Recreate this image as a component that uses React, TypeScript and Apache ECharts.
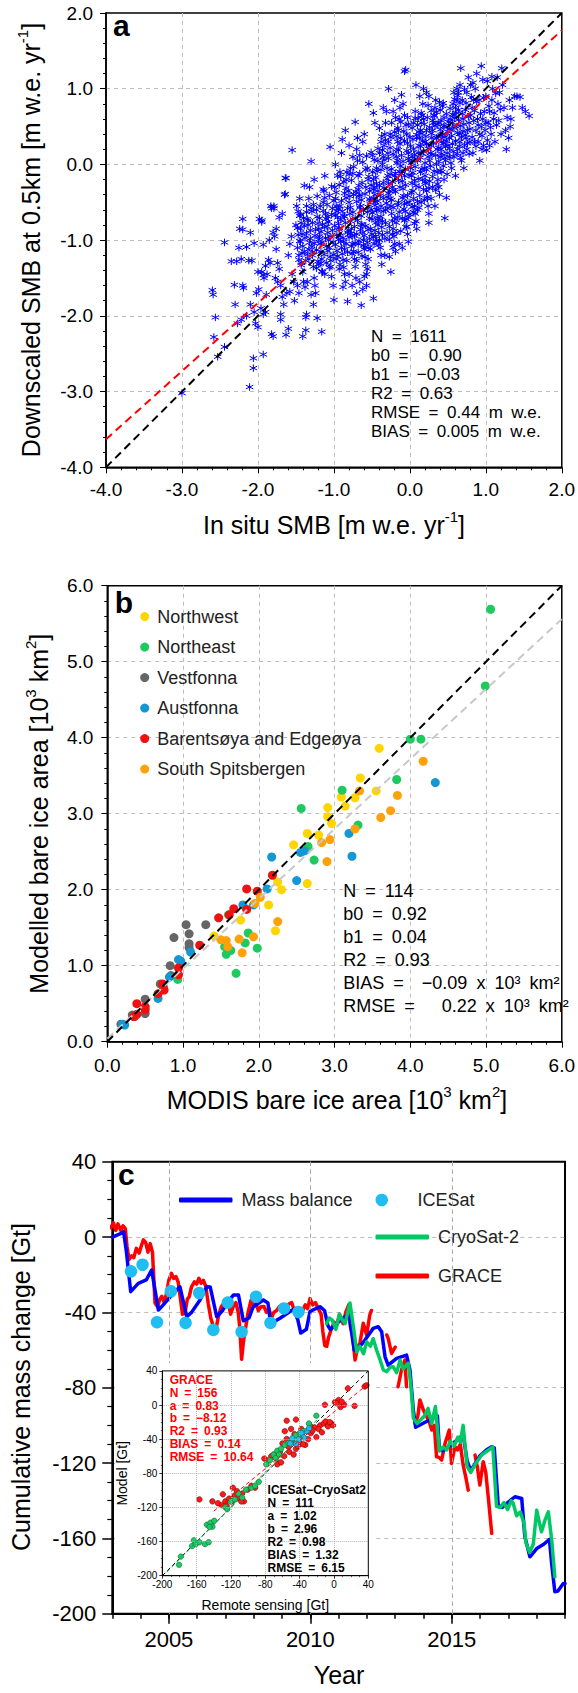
import React, { useEffect, useRef } from 'react';
import * as echarts from 'echarts';

const FONT = '"Liberation Sans", Arial, Helvetica, sans-serif';

// ---------- Panel a: in situ vs downscaled SMB ----------
const smbFit = { b0: 0.9, b1: -0.03 };
const smbRange = [-4, 2];
const smbFringe: number[][] = [
  [-0.055,1.25],[-0.07,1.23],[0.67,1.27],[0.94,1.3],[1.21,1.27],[-1.55,0.19],[-2.44,-1.03],[-2.6,-1.66],[-2.59,-1.72],[-2.56,-2.02],
  [-2.58,-2.28],[-2.53,-2.54],[-2.44,-2.41],[-2.35,-1.28],[-2.31,-1.59],[-2.3,-1.85],[-2.2,-1.6],[-2.19,-1.63],[-2.2,-0.72],[-2.24,-0.85],
  [-2.06,-2.56],[-2.06,-2.69],[-2.11,-2.94],[-1.93,-2.51],[-3.0,-3.02],[-1.8,-2.27],[-1.63,-2.25],[-1.41,-2.27],[-1.37,-2.19],[-1.16,-2.21],
  [-1.22,-2.03],[-1.0,-1.79],[-0.82,-1.81],[-0.64,-1.86],[-0.48,-1.77],[-0.25,-1.42],[0.46,-0.71],[0.25,-0.77],[0.48,-0.44],[1.3,0.35],
  [1.57,0.64],[1.45,0.89],[1.31,0.85],[1.01,0.19],[1.14,0.52],[-0.54,0.8],[-0.72,0.56],[-0.89,0.33],[-1.05,0.23],[-1.3,0.04],
  [-1.63,-0.18],[-1.64,-0.39],[-1.79,-0.55],[-1.79,-0.58],[-1.95,-0.74],[-2.05,-1.04],[-2.15,-1.09],[-2.0,-1.42],[-1.93,-1.46],[-2.22,-1.25],
  [-2.25,-1.1],[-2.28,-1.28],[-2.2,-0.86],[-2.22,-2.05],[-2.27,-2.1],[-2.12,-1.27],[-2.08,-1.27],[-2.1,-0.9],[-2.02,-1.7],[-2.1,-1.85],[-2.15,-2.0],
  [-1.98,-0.72],[-1.95,-0.76],[-1.93,-1.06],[-1.9,-1.34],[-1.88,-1.45],[-1.95,-1.42],[-1.92,-1.5],[-1.86,-1.26],[-1.83,-0.55],[-1.82,-0.58],
  [-1.8,-0.9],[-1.78,-0.95],[-1.76,-1.12],[-1.74,-1.3],[-1.72,-1.38],[-1.7,-1.6],[-1.68,-1.75],[-1.66,-1.85],[-1.62,-1.7],[-1.6,-1.2],
  [-1.58,-1.05],[-1.56,-0.95],[-1.55,-1.45],[-1.53,-1.55],[-1.52,-1.8],[-1.5,-0.8],[-1.65,-0.4],[-1.64,-0.18],[-1.68,-0.65],[-1.72,-0.7],
  [-1.76,-0.85],[-1.85,-1.0],[-1.9,-1.95],[-1.93,-1.98],[-1.96,-1.9],[-1.89,-1.72],[-1.99,-1.65],[-1.82,-2.24],[-1.7,-2.05],[-1.7,-1.98],
  [-1.6,-2.17],[-1.58,-1.68],[-1.77,-1.5],[-1.74,-1.55],[-1.84,-1.3],[-2.05,-1.95],[-2.03,-2.1],[-2.0,-2.15],
  [-1.49,-0.55],[-1.47,-0.62],[-1.45,-0.68],[-1.44,-0.85],[-1.42,-0.92],[-1.48,-1.1],[-1.46,-1.2],[-1.43,-1.3],[-1.41,-1.42],[-1.4,-1.55],
  [-1.38,-1.62],[-1.36,-1.98],[-1.37,-2.02],[-1.35,-0.72],[-1.33,-0.45],[-1.32,-0.3],[-1.31,-0.98],[-1.29,-1.08],[-1.28,-1.2],[-1.27,-1.35],
  [-1.26,-1.5],[-1.25,-1.6],[-1.24,-1.7],[-1.23,-0.6],[-1.21,-0.78],[-1.2,-0.85],[-1.19,-0.95],[-1.18,-1.05],[-1.17,-1.15],[-1.16,-1.25],
  [-1.15,-1.42],[-1.14,-0.5],[-1.13,-0.35],[-1.12,-0.15],[-1.11,-0.65],[-1.1,-0.72],[-1.09,-0.82],[-1.08,-0.9],[-1.07,-1.0],[-1.06,-1.1],
  [-1.05,-1.22],[-1.04,-1.35],[-1.03,-1.48],[-1.02,-0.58],[-1.01,-1.6],[-1.45,-0.45],[-1.39,-0.28],[-1.36,-0.55],[-1.34,-0.8],[-1.22,-0.42],
  [-1.26,-0.2],[-1.18,-0.55],[-1.12,-1.45],[-1.27,-1.85],[-1.3,-1.72],[-1.44,-1.02],[-1.39,-1.15],[-1.33,-1.25],[-1.2,-1.32],[-1.1,-1.3],
  [-1.48,-1.6],[-1.46,-1.7],[-1.35,-1.55]
];
const smbCoreWest: number[][] = [
  [-0.99,-0.3],[-0.98,-0.45],[-0.97,-0.55],[-0.96,-0.62],[-0.95,-0.7],[-0.94,-0.78],[-0.93,-0.86],[-0.92,-0.94],[-0.91,-1.02],[-0.9,-1.1],
  [-0.89,-1.18],[-0.88,-1.26],[-0.87,-1.36],[-0.86,-1.45],[-0.85,-1.55],[-0.84,-0.2],[-0.83,-0.1],[-0.85,0.45],[-0.81,-0.35],[-0.8,-0.5],
  [-0.79,-0.65],[-0.78,-0.75],[-0.77,-0.85],[-0.76,-0.95],[-0.75,-1.05],[-0.74,-1.15],[-0.73,-1.25],[-0.72,-1.35],[-0.71,-1.5],[-0.7,0.2],
  [-0.69,0.05],[-0.68,-0.15],[-0.67,-0.28],[-0.66,-0.4],[-0.65,-0.55],[-0.64,-0.68],[-0.63,-0.8],[-0.62,-0.9],[-0.61,-1.0],[-0.6,-1.12],
  [-0.59,-1.22],[-0.58,-1.32],[-0.57,-1.45],[-0.62,-1.65],[-0.56,-0.05],[-0.55,-0.2],[-0.53,-0.35],[-0.52,-0.48],[-0.51,-0.6],[-0.5,-0.72],
  [-0.52,-0.85],[-0.53,-0.98],[-0.54,-1.1],[-0.55,-1.25],[-0.56,-1.38],[-0.57,-1.6],[-0.6,0.4],[-0.62,0.3],[-0.75,0.1],[-0.78,-0.05],
  [-0.92,-0.1],[-0.95,-0.15],[-0.97,-1.25],[-0.93,-1.38],[-0.88,-1.62],[-0.8,-1.45],[-0.76,-1.6],[-0.7,-1.7],[-0.66,-1.55],[-0.6,-1.48],
  [-0.92,-0.55],[-0.87,-0.68],[-0.82,-0.9],[-0.7,-0.92],[-0.68,-1.05],[-0.84,-1.05],[-0.74,-0.4],[-0.86,-0.38],[-0.58,-0.3],[-0.66,0.12],
  [-0.98,0.0],[-0.9,0.15],[-0.8,0.25],[-0.69,0.35],
  [-1.47,-0.93],[-1.43,-0.77],[-1.41,-1.08],[-1.46,-1.26],[-1.44,-0.66],[-1.42,-1.17],[-1.48,-0.84],[-1.45,-1.01],[-1.4,-0.71],[-1.43,-1.33],
  [-1.38,-0.97],[-1.36,-0.63],[-1.33,-1.12],[-1.31,-0.87],[-1.37,-1.27],[-1.34,-0.74],[-1.32,-1.03],[-1.39,-0.81],[-1.35,-1.19],[-1.3,-0.58],[-1.36,-0.91],
  [-1.28,-0.77],[-1.27,-0.53],[-1.25,-0.94],[-1.23,-1.13],[-1.22,-0.69],[-1.21,-1.28],[-1.26,-1.04],[-1.24,-0.86],[-1.29,-0.62],[-1.2,-0.99],[-1.23,-1.37],[-1.28,-1.16],
  [-1.19,-0.71],[-1.17,-0.89],[-1.16,-1.03],[-1.14,-0.61],[-1.13,-1.19],[-1.12,-0.44],[-1.11,-0.97],[-1.15,-0.79],[-1.18,-1.31],[-1.1,-1.08],[-1.14,-0.33],[-1.16,-1.41],[-1.12,-0.83],
  [-1.09,-0.53],[-1.08,-1.14],[-1.07,-0.76],[-1.06,-0.41],[-1.05,-0.95],[-1.04,-1.27],[-1.03,-0.66],[-1.02,-0.87],[-1.01,-1.03],[-1.0,-0.48],[-1.06,-1.36],[-1.03,-0.29],[-1.08,-0.69],[-1.01,-1.19],
  [-0.99,-0.81],[-0.98,-1.06],[-0.97,-0.37],[-0.96,-0.93],[-0.95,-1.21],[-0.94,-0.59],[-0.93,-0.27],[-0.92,-1.32],[-0.91,-0.73],[-0.9,-0.48],[-0.96,-1.14],[-0.94,-0.99],[-0.91,-0.16],[-0.98,-0.67],[-0.93,-0.84],
  [-0.89,-0.62],[-0.88,-0.97],[-0.87,-0.23],[-0.86,-1.12],[-0.85,-0.77],[-0.84,-0.44],[-0.83,-1.27],[-0.82,-0.58],[-0.81,-0.88],[-0.8,-0.13],[-0.87,-1.02],[-0.84,-0.31],[-0.82,-1.16],[-0.86,-0.69],[-0.8,-0.96],
  [-0.79,-0.42],[-0.78,-0.91],[-0.77,-0.21],[-0.76,-1.18],[-0.75,-0.63],[-0.74,-0.03],[-0.73,-0.82],[-0.72,-1.04],[-0.71,-0.36],[-0.7,-1.27],[-0.78,-0.57],[-0.75,-0.12],[-0.72,-0.71],[-0.77,-1.08],[-0.7,-0.49],[-0.73,-0.94],
  [-0.69,-0.74],[-0.68,-0.33],[-0.67,-1.01],[-0.66,-0.12],[-0.65,-0.86],[-0.64,-0.47],[-0.63,-1.21],[-0.62,0.03],[-0.61,-0.61],[-0.6,-0.94],[-0.68,-1.16],[-0.66,-0.57],[-0.63,-0.24],[-0.61,-1.07],[-0.67,-0.42],[-0.64,-0.79],
  [-0.59,-0.39],[-0.58,-0.81],[-0.57,0.11],[-0.56,-1.03],[-0.55,-0.56],[-0.54,-0.16],[-0.53,-0.71],[-0.52,-1.12],[-0.51,-0.27],[-0.5,-0.92],[-0.58,-0.07],[-0.56,-0.63],[-0.53,-0.46],[-0.51,0.16],[-0.55,-0.86],[-0.59,-1.09]
];
const smbCoreCentre: number[][] = [
  [-0.49,-0.1],[-0.48,-0.2],[-0.47,-0.3],[-0.46,-0.4],[-0.45,-0.5],[-0.44,-0.6],[-0.43,-0.7],[-0.42,-0.8],[-0.41,-0.9],[-0.4,-1.0],
  [-0.39,-1.1],[-0.38,-1.2],[-0.37,-1.32],[-0.36,0.0],[-0.35,0.1],[-0.34,0.25],[-0.33,0.4],[-0.32,0.55],[-0.31,0.7],[-0.3,-0.05],
  [-0.29,-0.15],[-0.28,-0.25],[-0.27,-0.35],[-0.26,-0.45],[-0.25,-0.55],[-0.24,-0.65],[-0.23,-0.75],[-0.22,-0.85],[-0.21,-0.95],[-0.2,-1.05],
  [-0.19,-1.15],[-0.18,0.1],[-0.17,0.2],[-0.16,0.3],[-0.15,0.45],[-0.14,0.6],[-0.13,0.75],[-0.12,-0.02],[-0.11,-0.12],[-0.1,-0.22],
  [-0.09,-0.32],[-0.08,-0.42],[-0.07,-0.52],[-0.06,-0.62],[-0.05,-0.72],[-0.04,-0.82],[-0.03,-0.92],[-0.02,-1.02],[-0.01,0.05],[-0.02,0.15],
  [-0.03,0.28],[-0.04,0.4],[-0.05,0.52],[-0.07,0.65],[-0.09,0.8],[-0.11,0.92],[-0.2,0.85],[-0.22,0.7],[-0.24,0.55],[-0.26,0.4],
  [-0.28,0.3],[-0.29,0.15],[-0.38,0.3],[-0.4,0.15],[-0.42,0.05],[-0.44,-0.05],[-0.46,0.55],[-0.48,0.68],[-0.35,0.75],[-0.4,0.48],
  [-0.45,-0.95],[-0.47,-1.05],[-0.33,-1.2],[-0.3,-0.9],[-0.32,-0.6],[-0.35,-0.45],[-0.38,-0.55],[-0.15,-0.5],[-0.13,-0.3],[-0.16,-0.7],
  [-0.18,-0.9],[-0.1,-1.1],[-0.14,-1.05],[-0.07,-0.15],[-0.12,0.35],[-0.16,0.05],[-0.2,-0.15],[-0.23,-0.3],[-0.36,-0.75],[-0.42,-0.35],
  [-0.28,1.0],[-0.19,0.62],[-0.01,-0.5],[-0.02,-0.7],[-0.22,-1.1],[-0.27,-1.22],[-0.48,-0.45],[-0.44,-0.25],
  [-0.49,-0.64],[-0.48,-0.33],[-0.47,0.06],[-0.46,-0.87],[-0.45,-0.17],[-0.44,-1.01],[-0.43,-0.48],[-0.42,0.21],[-0.41,-0.74],[-0.4,-0.28],[-0.48,-0.96],[-0.46,-0.54],[-0.43,-0.09],[-0.41,-1.06],[-0.45,-0.77],[-0.49,0.12],[-0.42,-0.6],
  [-0.39,-0.41],[-0.38,-0.07],[-0.37,-0.83],[-0.36,0.19],[-0.35,-0.62],[-0.34,-0.31],[-0.33,-0.98],[-0.32,0.32],[-0.31,-0.51],[-0.3,-0.19],[-0.38,-0.69],[-0.36,-0.93],[-0.34,0.06],[-0.32,-0.77],[-0.3,-0.43],[-0.37,0.37],[-0.35,-0.24],
  [-0.29,-0.58],[-0.28,0.08],[-0.27,-0.82],[-0.26,-0.13],[-0.25,0.36],[-0.24,-0.47],[-0.23,-0.92],[-0.22,0.14],[-0.21,-0.34],[-0.2,-0.71],[-0.28,-0.38],[-0.26,0.22],[-0.24,-0.06],[-0.22,-0.57],[-0.2,0.43],[-0.27,-0.99],[-0.23,-0.23],
  [-0.19,-0.36],[-0.18,-0.77],[-0.17,0.02],[-0.16,0.48],[-0.15,-0.21],[-0.14,-0.63],[-0.13,0.27],[-0.12,-0.88],[-0.11,0.12],[-0.1,-0.44],[-0.18,0.37],[-0.16,-0.54],[-0.14,-0.09],[-0.12,0.56],[-0.1,-0.71],[-0.19,-0.12],[-0.15,0.19],
  [-0.09,0.04],[-0.08,-0.59],[-0.07,0.31],[-0.06,-0.27],[-0.05,-0.83],[-0.04,0.18],[-0.03,-0.41],[-0.02,0.53],[-0.01,-0.14],[0.0,-0.66],[-0.08,0.44],[-0.06,-0.06],[-0.04,-0.51],[-0.02,0.08],[0.0,0.36],[-0.07,-0.74],[-0.03,0.62]
];
const smbCoreEast: number[][] = [
  [0.01,-0.05],[0.02,-0.15],[0.03,-0.25],[0.04,-0.35],[0.05,-0.45],[0.06,-0.55],[0.07,-0.65],[0.08,-0.75],[0.09,-0.85],[0.1,0.05],
  [0.11,0.15],[0.12,0.25],[0.13,0.35],[0.14,0.45],[0.15,0.55],[0.16,0.65],[0.17,0.8],[0.18,1.0],[0.19,-0.05],[0.2,-0.15],
  [0.21,-0.25],[0.22,-0.35],[0.23,-0.45],[0.24,-0.55],[0.25,-0.65],[0.26,0.05],[0.27,0.15],[0.28,0.25],[0.29,0.35],[0.3,0.45],
  [0.31,0.55],[0.32,0.65],[0.33,0.75],[0.34,0.85],[0.35,0.0],[0.36,-0.1],[0.37,-0.2],[0.38,-0.3],[0.39,-0.4],[0.4,0.1],
  [0.41,0.2],[0.42,0.3],[0.43,0.4],[0.44,0.5],[0.45,0.62],[0.47,0.05],[0.49,0.15],[0.22,0.95],[0.25,0.9],[0.05,0.55],
  [0.07,0.7],[0.09,0.35],[0.05,0.2],[0.03,0.1],[0.12,-0.3],[0.15,-0.5],[0.17,-0.2],[0.14,-0.1],[0.2,0.3],[0.22,0.45],
  [0.18,0.6],[0.35,0.35],[0.38,0.55],[0.4,0.72],[0.42,-0.1],[0.45,-0.2],[0.3,-0.3],[0.28,-0.45],[0.33,-0.55],[0.1,-0.6],
  [0.06,-0.78],[0.13,0.9],[0.08,1.05],[0.36,0.2],[0.44,0.28],[0.16,0.15],[0.24,0.1],
  [0.01,0.24],[0.02,-0.37],[0.03,0.48],[0.04,-0.11],[0.05,-0.63],[0.06,0.13],[0.07,0.61],[0.08,-0.28],[0.09,0.39],[0.1,-0.49],[0.02,0.02],[0.04,0.33],[0.06,-0.21],[0.08,0.07],[0.1,0.52],[0.03,-0.56],[0.07,-0.03],
  [0.11,-0.19],[0.12,0.43],[0.13,-0.41],[0.14,0.09],[0.15,0.68],[0.16,-0.06],[0.17,0.31],[0.18,-0.33],[0.19,0.53],[0.2,0.02],[0.12,-0.57],[0.14,0.24],[0.16,0.41],[0.18,0.17],[0.2,-0.23],[0.11,0.61],[0.19,-0.47],
  [0.21,0.37],[0.22,-0.07],[0.23,0.62],[0.24,0.21],[0.25,-0.31],[0.26,0.49],[0.27,-0.02],[0.28,0.71],[0.29,0.13],[0.3,-0.16],[0.22,0.27],[0.24,0.78],[0.26,-0.22],[0.28,0.41],[0.3,0.58],[0.23,-0.43],
  [0.31,0.28],[0.32,-0.09],[0.33,0.51],[0.34,0.12],[0.35,0.69],[0.36,-0.26],[0.37,0.37],[0.38,0.04],[0.39,0.82],[0.4,0.46],[0.32,0.64],[0.34,-0.34],[0.36,0.53],[0.38,0.22],[0.4,-0.08],
  [0.41,0.58],[0.42,0.14],[0.43,0.77],[0.44,-0.02],[0.45,0.36],[0.46,0.51],[0.47,0.24],[0.48,0.67],[0.49,-0.13],[0.5,0.43],[0.42,0.38],[0.44,0.81],[0.46,0.09],[0.48,0.31],
  [0.5,0.25],[0.52,0.35],[0.54,0.45],[0.56,0.55],[0.58,0.65],[0.6,0.75],[0.62,0.85],[0.64,0.95],[0.66,1.05],[0.68,0.05],
  [0.7,0.15],[0.72,0.25],[0.74,0.35],[0.76,0.45],[0.78,0.55],[0.8,0.65],[0.82,0.75],[0.84,0.85],[0.86,1.0],[0.88,1.2],
  [0.9,0.3],[0.92,0.4],[0.94,0.5],[0.96,0.6],[0.98,0.7],[0.55,-0.05],[0.58,0.1],[0.6,-0.15],[0.63,0.2],[0.65,0.4],
  [0.53,0.6],[0.57,0.8],[0.61,0.5],[0.7,0.6],[0.73,0.72],[0.75,0.95],[0.77,1.15],[0.79,0.3],[0.83,0.15],[0.87,0.45],
  [0.89,0.6],[0.91,0.85],[0.97,0.25],[0.99,0.45],[0.66,0.3],[0.71,-0.05],[0.85,0.3],[0.95,0.2],[0.52,0.1],[0.62,1.0],
  [0.69,0.85],[0.8,1.05],[0.92,0.05],[0.75,0.2],[0.58,0.95],[0.64,0.72],
  [0.51,0.56],[0.52,0.21],[0.53,0.74],[0.54,0.02],[0.55,0.38],[0.56,0.66],[0.57,0.17],[0.58,0.49],[0.59,0.86],[0.6,0.31],[0.52,0.47],[0.56,0.27],[0.59,0.61],
  [0.61,0.68],[0.62,0.14],[0.63,0.42],[0.64,0.59],[0.65,0.24],[0.66,0.81],[0.67,0.51],[0.68,0.36],[0.69,0.67],[0.7,0.44],[0.63,0.91],[0.67,0.09],
  [0.71,0.53],[0.73,0.39],[0.74,0.81],[0.76,0.28],[0.77,0.63],[0.79,0.47],[0.81,0.89],[0.82,0.36],[0.84,0.58],[0.85,0.71],[0.87,0.24],[0.88,0.83],[0.9,0.52],[0.72,0.99],[0.78,0.14],[0.83,1.08],
  [0.93,0.67],[0.95,0.38],[0.97,0.88],[1.0,0.55],[1.02,0.32],[1.04,0.77],[1.06,0.49],[1.11,0.68],[1.13,0.94],[1.17,0.58],[1.19,0.73],[0.96,1.12],[1.08,1.16],
  [1.0,0.9],[1.03,0.55],[1.05,0.7],[1.07,0.4],[1.09,1.0],[1.1,0.6],[1.12,0.3],[1.16,0.8],[1.18,0.95],[1.22,1.05],
  [1.24,0.75],[1.26,0.45],[1.28,0.62],[1.32,0.5],[1.35,0.75],[1.38,0.9],[1.41,0.9],[1.48,0.75],[1.52,0.7],[1.05,0.25],
  [1.08,0.85],[1.2,0.4],[1.02,1.1],[1.15,1.15],[1.27,0.2],[1.33,0.6]
];
const statsA = [
  'N\u2002=\u20021611',
  'b0\u2002=\u2002\u2002\u20090.90',
  'b1\u2002=\u2002\u22120.03',
  'R2\u2002=\u20020.63',
  'RMSE\u2002=\u20020.44\u2002m\u2002w.e.',
  'BIAS\u2002=\u20020.005\u2002m\u2002w.e.'
];

// ---------- Panel b: bare ice area ----------
const iceFit = { b0: 0.92, b1: 0.04 };
const iceRange = [0, 6];
const regionNames = ['Northwest', 'Northeast', 'Vestfonna', 'Austfonna', 'Barentsøya and Edgeøya', 'South Spitsbergen'];
const regionColors = ['#ffd500', '#1ec95e', '#666666', '#1397d5', '#f01010', '#ffa10a'];
const northwest = [[3.59,3.86],[3.34,3.47],[3.09,3.22],[3.14,3.10],[3.27,3.21],[3.55,3.30],[2.91,3.08],[2.91,2.96],[2.96,2.87],[2.64,2.74],[2.79,2.72],[2.46,2.59],[2.64,2.08],[2.25,2.10],[2.30,2.00],[2.13,1.80],[2.22,1.46],[1.76,1.60],[1.41,1.39]];
const northeast = [[5.06,5.69],[4.99,4.68],[4.00,3.98],[4.14,3.98],[3.82,3.45],[3.10,3.31],[2.56,3.07],[3.31,2.85],[2.65,2.57],[2.73,2.39],[1.86,1.43],[1.82,1.30],[1.57,1.15],[1.63,1.20],[1.98,1.23],[1.70,0.90],[0.93,0.82],[1.55,1.25],[1.60,1.67]];
const vestfonna = [[1.04,1.54],[1.30,1.54],[1.08,1.42],[1.08,1.29],[1.08,1.24],[0.88,1.37],[0.83,1.00],[0.84,0.87],[0.70,0.76],[0.74,0.72],[0.50,0.56],[0.50,0.37],[0.33,0.35],[0.18,0.23],[0.36,0.33]];
const austfonna = [[4.33,3.41],[3.19,2.74],[3.23,2.44],[2.17,2.43],[2.55,2.49],[2.50,2.12],[2.60,2.51],[2.11,2.01],[1.93,1.80],[1.79,1.80],[1.10,1.18],[0.94,1.08],[0.97,1.06],[0.82,0.85],[0.67,0.57],[0.23,0.22],[0.20,0.23]];
const barents = [[2.18,2.19],[1.84,2.01],[1.98,1.98],[1.67,1.75],[1.84,1.74],[1.47,1.63],[1.61,1.67],[1.22,1.27],[0.94,0.97],[0.94,0.88],[0.73,0.76],[0.75,0.68],[0.67,0.63],[0.39,0.50],[0.50,0.46],[0.50,0.42],[0.39,0.36],[0.35,0.33]];
const southSpits = [[4.17,3.69],[3.83,3.24],[3.74,3.04],[3.61,2.95],[3.33,3.30],[3.27,2.80],[2.94,2.66],[2.83,2.62],[2.90,2.37],[2.02,1.90],[1.95,1.82],[2.25,1.58],[1.93,1.38],[1.74,1.35],[1.57,1.33],[1.50,1.34],[1.59,1.25],[1.78,1.17]];
const regionData = [northwest, northeast, vestfonna, austfonna, barents, southSpits];
const statsB = [
  'N\u2002=\u2002114',
  'b0\u2002=\u20020.92',
  'b1\u2002=\u20020.04',
  'R2\u2002=\u20020.93',
  'BIAS\u2002=\u2002\u2002\u22120.09\u2002x\u200210\u00b3\u2002km\u00b2',
  'RMSE\u2002=\u2002\u2002\u20020.22\u2002x\u200210\u00b3\u2002km\u00b2'
];

// ---------- Panel c: cumulative mass change ----------
const yearTicks = ['2003','2004','2005','2006','2007','2008','2009','2010','2011','2012','2013','2014','2015','2016','2017','2018','2019'];
const yearGridLines = [2005, 2010, 2015];
const massRange = [-200, 40];
const massBalance = [
  [2003.0,0],[2003.25,1.5],[2003.4,2.8],[2003.5,-8],[2003.65,-29],[2003.92,-24.6],[2004.2,-22.8],[2004.39,-17.5],[2004.63,-38.8],[2004.8,-36],
  [2005.1,-30.8],[2005.39,-26.4],[2005.63,-42.3],[2005.8,-40],[2006.1,-33.4],[2006.34,-26.4],[2006.46,-26.5],[2006.69,-42.3],[2006.9,-39],[2007.04,-35.2],
  [2007.28,-30.8],[2007.46,-30.8],[2007.63,-44.5],[2007.83,-43],[2007.98,-37],[2008.34,-33.4],[2008.5,-35],[2008.6,-46],[2008.94,-43],[2009.33,-39],
  [2009.47,-38],[2009.66,-51],[2009.86,-49],[2009.99,-39.5],[2010.34,-37],[2010.5,-39],[2010.62,-47],[2010.7,-49],[2011.16,-43],[2011.36,-41],
  [2011.55,-60],[2011.75,-58],[2011.93,-54.7],[2012.22,-48.5],[2012.4,-47.6],[2012.52,-50.3],[2012.64,-63.6],[2012.75,-68],[2013.05,-64.4],[2013.4,-62.7],
  [2013.52,-70.6],[2013.64,-91.9],[2013.72,-101],[2013.97,-99],[2014.23,-97],[2014.49,-95],[2014.56,-112.5],[2014.69,-113.6],[2015.08,-109],[2015.4,-105],
  [2015.54,-118.8],[2015.67,-124],[2016.0,-116],[2016.23,-113],[2016.41,-111.4],[2016.5,-112],[2016.64,-142.3],[2016.78,-143.6],[2016.94,-141.4],[2017.23,-137.9],
  [2017.47,-138.8],[2017.58,-159],[2017.76,-169.8],[2018.0,-165.4],[2018.26,-163],[2018.45,-160.5],[2018.53,-173.7],[2018.64,-188.3],[2018.75,-188],[2018.94,-183.9],[2019.0,-184]
];
const grace = [
  [2002.95,5],[2003.04,7.5],[2003.12,3.5],[2003.2,7],[2003.3,3.5],[2003.38,6],[2003.46,4.5],[2003.52,-5],[2003.59,-12],[2003.68,-10],
  [2003.76,-11],[2003.85,-6],[2003.95,-8.5],[2004.03,-4.5],[2004.1,-1.5],[2004.18,-3],[2004.26,-8],[2004.34,-3.5],[2004.42,-8],[2004.51,-35],
  [2004.6,-37],[2004.68,-33],[2004.75,-31.5],[2004.84,-35],[2004.92,-29.5],[2005.0,-22.8],[2005.09,-19.3],[2005.17,-22],[2005.25,-21],[2005.33,-24],
  [2005.41,-33],[2005.48,-41],[2005.57,-40.4],[2005.65,-33],[2005.72,-31.7],[2005.8,-26.4],[2005.9,-23.8],[2005.98,-25],[2006.06,-21.9],[2006.14,-24.5],
  [2006.22,-23],[2006.3,-26],[2006.39,-35.2],[2006.48,-43],[2006.57,-47.5],[2006.66,-49.3],[2006.75,-42],[2006.85,-37],[2006.95,-35],[2007.05,-32.7],
  [2007.12,-36],[2007.18,-41],[2007.27,-37],[2007.37,-34.8],[2007.45,-40],[2007.5,-47.3],[2007.57,-64.9],[2007.64,-55],[2007.7,-49.3],[2007.8,-40],
  [2007.9,-33.7],[2007.98,-36],[2008.07,-35],[2008.16,-39],[2008.25,-37],[2008.36,-36.9],[2008.45,-40],[2008.54,-38],[2008.62,-43],[2008.71,-40],
  [2008.81,-39],[2008.9,-37],[2009.01,-35.9],[2009.1,-38],[2009.2,-36],[2009.34,-34.8],[2009.43,-39],[2009.53,-43],[2009.62,-41],[2009.73,-39],
  [2009.82,-36],[2009.9,-38],[2009.99,-32.7],[2010.08,-36],[2010.18,-34.8],[2010.28,-38],[2010.38,-41],[2010.44,-50],[2010.51,-57.6],[2010.58,-58],
  [2010.64,-53.5],[2010.74,-49],[2010.84,-45.2],[2010.93,-47],[2011.03,-41],[2011.1,-44],[2011.16,-46],[2011.25,-40],[2011.36,-35.9],[2011.42,-48],
  [2011.49,-51.4],[2011.58,-65.3],[2011.68,-58],[2011.75,-56.5],[2011.87,-45.8],[2011.99,-52],[2012.1,-41.4],[2012.16,-39],[2012.4,null],[2012.7,-52],
  [2012.75,-53.8],[2012.87,-61.8],[2013.0,-58.5],[2013.05,null],[2013.1,-79.5],[2013.22,-70.6],[2013.34,-65.3],[2013.4,-79.5],[2013.55,null],[2013.71,-99],
  [2013.8,-95],[2013.87,-86.5],[2014.0,-92],[2014.11,-95.4],[2014.2,-98],[2014.29,-102.5],[2014.38,-100],[2014.46,-116.7],[2014.55,-117],[2014.64,-118.4],
  [2014.76,-109.6],[2014.91,-102.5],[2014.99,-120.2],[2015.11,-111.3],[2015.2,-113],[2015.3,-110],[2015.4,-121],[2015.5,-128],[2015.58,-134.4],[2015.7,null],
  [2015.82,-115.8],[2015.9,-122],[2015.99,-131.7],[2016.11,-119.3],[2016.2,-125],[2016.3,-140],[2016.41,-157.3]
];
const cryosat = [
  [2010.57,-46],[2010.67,-43],[2010.77,-44],[2010.9,-49],[2011.03,-41],[2011.13,-44],[2011.23,-46],[2011.32,-40],[2011.4,-35],[2011.52,-47.6],
  [2011.64,-61],[2011.75,-58],[2011.88,-62],[2011.99,-55.6],[2012.12,-58],[2012.22,-54],[2012.34,-60],[2012.46,-65],[2012.58,-70.6],[2012.7,-71.5],
  [2012.82,-69],[2012.93,-68.9],[2013.05,-72],[2013.17,-65.3],[2013.28,-70],[2013.46,-67],[2013.56,-80],[2013.64,-96],[2013.77,-99],[2013.9,-97],
  [2014.03,-95],[2014.16,-91],[2014.29,-99],[2014.42,-90],[2014.56,-113.6],[2014.69,-111.5],[2014.82,-113],[2014.95,-108.4],[2015.08,-111],[2015.21,-106.3],
  [2015.3,-109],[2015.4,-100],[2015.54,-121.9],[2015.67,-125],[2015.86,-119.8],[2016.06,-115.6],[2016.25,-113.6],[2016.45,-111.5],[2016.58,-143],[2016.71,-143.6],
  [2016.84,-141],[2016.97,-144.7],[2017.1,-140],[2017.17,-141.4],[2017.29,-148],[2017.42,-146],[2017.55,-152],[2017.62,-162.3],[2017.75,-167.5],[2017.88,-163],
  [2018.0,-145],[2018.1,-152],[2018.17,-156.5],[2018.3,-150],[2018.41,-145.9],[2018.53,-160.8],[2018.64,-180.4]
];
const icesat = [
  [2003.66,-18.2],[2004.07,-14.7],[2004.58,-45.2],[2005.07,-28.8],[2005.59,-45.6],[2006.07,-29.7],[2006.57,-49.3],
  [2007.08,-34.8],[2007.57,-50.4],[2008.08,-31.7],[2008.59,-45.6],[2009.07,-37.9],[2009.58,-39.8]
];

// ---------- Panel c inset ----------
const insetRange = [-200, 40];
const graceFit = { a: 0.83, b: -8.12, from: -140, to: 40 };
const cryoFit = { a: 1.02, b: 2.96, from: -195, to: -20 };
const insetGrace = [
  [-156.8,-110.6],[-141.6,-112.9],[-135.1,-115.1],[-129.5,-104.6],[-130.8,-117.4],[-126.5,-112.9],[-122.2,-109.7],[-117.8,-96.9],[-115.7,-106],[-111.4,-108.3],
  [-107,-103.7],[-104.9,-112.9],[-100.5,-99.2],[-96.2,-94.6],[-91.9,-96.9],[-119,-113],[-113,-101],[-108,-113],[-125,-118],
  [-81.1,-62.7],[-76.8,-64.9],[-70.3,-58.1],[-66,-69.5],[-61.6,-67.2],[-73,-60],[-68,-62],[-63,-55],[-58,-60],
  [-57.3,-30.7],[-55.1,-39.8],[-53,-49],[-48.6,-42.1],[-44.3,-51.3],[-42.2,-35.3],[-40,-44.4],[-35.7,-37.6],[-33.5,-46.7],[-31.4,-30.7],
  [-27,-33],[-22.7,-26.2],[-20.5,-37.6],[-16.2,-23.9],[-11.9,-21.6],[-9.7,-19.3],[-3.2,-21.6],[-1.1,-23.9],[-55.1,-18.4],[-44.3,-17],
  [-50,-28],[-46,-34],[-38,-28],[-36,-46],[-30,-40],[-25,-30],[-18,-28],[-14,-32],[-7,-25],[-5,-20],[-60,-45],[-52,-55],[-47,-58],[-42,-48],[-28,-24],
  [-10.6,0.3],[1.1,3.5],[5.4,5.8],[7.6,-2.4],[11.9,0.3],[16.2,19.5],[24,-1.1],[35.7,21.7],[37.8,23.1],[3,2],[9,4]
];
const insetCryo = [
  [-180.5,-187.2],[-178.4,-177.6],[-165.4,-165.3],[-163.2,-158.5],[-161.1,-163],[-156.8,-160.8],[-150.3,-163],[-146,-160.8],[-148.1,-140.2],[-143.8,-137.9],
  [-141.6,-142.5],[-139.5,-135.6],[-145,-143],[-126.5,-119.7],[-124.3,-122],[-120,-112.9],[-115.7,-110.6],[-111.4,-103.7],[-107,-108.3],[-102.7,-99.2],
  [-96.2,-96.9],[-91.9,-94.6],[-87.6,-90],[-78.9,-69.5],[-74.6,-64.9],[-70.3,-58.1],[-66,-53.5],[-61.6,-51.3],[-57.3,-46.7],[-53,-44.4],
  [-48.6,-39.8],[-44.3,-35.3],[-40,-33],[-35.7,-30.7],[-29.2,-21.6],[-20.5,-12.5],[-68,-62],[-64,-58]
];
const insetIcesat = [[-48.6,-38.9],[-44.3,-45.3],[-37.8,-33],[-31.4,-30.7],[-51,-45],[-41,-40],[-35,-38],[-29,-27]];
const statsGrace = ['GRACE','N\u2002=\u2002156','a\u2002=\u20020.83','b\u2002=\u2002\u22128.12','R2\u2002=\u20020.93','BIAS\u2002=\u20020.14','RMSE\u2002=\u200210.64'];
const statsCryo = ['ICESat\u2212CryoSat2','N\u2002=\u2002111','a\u2002=\u20021.02','b\u2002=\u20022.96','R2\u2002=\u20020.98','BIAS\u2002=\u20021.32','RMSE\u2002=\u20026.15'];

const ASTERISK = 'path://M5,0L5,10M0.67,2.5L9.33,7.5M0.67,7.5L9.33,2.5';
const GRID_COLOR = '#bdbdbd';
const GRIDLINE = { show: true, showMinLine: false, showMaxLine: false, lineStyle: { color: GRID_COLOR, type: [4, 4] as any, width: 1 } };

function fitLine(range: number[], slope: number, intercept: number) {
  return range.map((x) => [x, intercept + slope * x]);
}

function sqAxis(gridIndex: number, range: number[], margin: number) {
  return {
    type: 'value', gridIndex, min: range[0], max: range[1], interval: 1,
    axisLine: { show: true, onZero: false, lineStyle: { color: '#000', width: 1.5 } },
    axisTick: { show: true, length: 6, lineStyle: { color: '#000', width: 1 } },
    minorTick: { show: true, splitNumber: 5, length: 3, lineStyle: { color: '#000', width: 1 } },
    axisLabel: { fontSize: 19, color: '#000', fontFamily: FONT, margin, showMinLabel: true, showMaxLabel: true, formatter: (v: number) => v.toFixed(1) },
    splitLine: GRIDLINE,
  };
}

function titleRich(size: number) {
  return {
    t: { fontSize: size, fontFamily: FONT, fill: '#000', lineHeight: 32 },
    s: { fontSize: 15, fontFamily: FONT, fill: '#000', lineHeight: 14, verticalAlign: 'top' },
  };
}

function App() {
  const ref = useRef<HTMLDivElement>(null);
  useEffect(() => {
    document.body.style.margin = '0';
    if (!ref.current) return;
    const chart = echarts.init(ref.current, undefined, { renderer: 'svg' });

    const graphics: any[] = [];
    const txt = (x: number, y: number, text: string, size: number, opts: any = {}) => {
      graphics.push({
        type: 'text', x, y, z: 20, rotation: opts.rotation || 0, silent: true,
        style: {
          text, fontSize: size, fontFamily: FONT, fontWeight: opts.bold ? 'bold' : 'normal',
          fill: opts.color || '#000', align: opts.align || 'left', verticalAlign: 'middle', rich: opts.rich,
        },
      });
    };
    txt(113, 25.6, 'a', 30, { bold: true });
    txt(114.7, 602.8, 'b', 30, { bold: true });
    txt(118, 1174.6, 'c', 30, { bold: true });
    txt(31, 240, '{t|Downscaled SMB at 0.5km [m w.e. yr}{s|-1}{t|]}', 25, { align: 'center', rotation: Math.PI / 2, rich: titleRich(25) });
    txt(334, 525, '{t|In situ SMB [m w.e. yr}{s|-1}{t|]}', 25, { align: 'center', rich: titleRich(25) });
    txt(39, 813.7, '{t|Modelled bare ice area [10}{s|3}{t| km}{s|2}{t|]}', 25, { align: 'center', rotation: Math.PI / 2, rich: titleRich(25) });
    txt(337, 1100, '{t|MODIS bare ice area [10}{s|3}{t| km}{s|2}{t|]}', 25, { align: 'center', rich: titleRich(25) });
    txt(21, 1387, 'Cumulative mass change [Gt]', 25, { align: 'center', rotation: Math.PI / 2 });
    txt(339, 1675, 'Year', 25, { align: 'center' });
    statsA.forEach((s, i) => txt(371, 336 + i * 19, s, 17));
    statsB.forEach((s, i) => txt(343.3, 890.7 + i * 23.1, s, 18));
    graphics.push({ type: 'rect', z: 9, silent: true, shape: { x: 115, y: 1363, width: 259, height: 249 }, style: { fill: '#fff' } });
    statsGrace.forEach((s, i) => txt(169.7, 1379.9 + i * 12.8, s, 12, { bold: true, color: '#ff0000' }));
    statsCryo.forEach((s, i) => txt(267.6, 1490 + i * 13, s, 12, { bold: true }));
    txt(121.7, 1473.3, 'Model [Gt]', 14, { align: 'center', rotation: Math.PI / 2 });
    txt(265.3, 1604.7, 'Remote sensing [Gt]', 14, { align: 'center' });

    const dashed = (xi: number, yi: number, data: number[][], color: string, width: number, dash: number[], z = 3) => ({
      type: 'line', xAxisIndex: xi, yAxisIndex: yi, data, showSymbol: false, symbol: 'none', silent: true, z,
      lineStyle: { color, width, type: dash as any }, itemStyle: { color },
    });
    const asterisks = (data: number[][]) => ({
      type: 'scatter', name: 'SMB', xAxisIndex: 0, yAxisIndex: 0, data, symbol: ASTERISK, symbolSize: 7.5, silent: true,
      itemStyle: { color: 'rgba(0,0,0,0)', borderColor: '#0000ff', borderWidth: 1, opacity: 1 },
    });

    const series: any[] = [
      asterisks(smbFringe), asterisks(smbCoreWest), asterisks(smbCoreCentre), asterisks(smbCoreEast),
      dashed(0, 0, fitLine(smbRange, 1, 0), '#000', 2, [8, 5]),
      dashed(0, 0, fitLine(smbRange, smbFit.b0, smbFit.b1), '#ff0000', 2, [8, 5]),
      dashed(1, 1, fitLine(iceRange, iceFit.b0, iceFit.b1), '#c8c8c8', 2, [8, 5]),
      dashed(1, 1, fitLine(iceRange, 1, 0), '#000', 2, [8, 5]),
    ];
    regionNames.forEach((name, i) => {
      series.push({
        type: 'scatter', name, xAxisIndex: 1, yAxisIndex: 1, data: regionData[i], symbol: 'circle', symbolSize: 9, silent: true,
        itemStyle: { color: regionColors[i], opacity: 1 },
      });
    });
    // vertical year grid lines of panel c
    series.push({
      type: 'custom', name: 'year grid', xAxisIndex: 2, yAxisIndex: 2, silent: true, z: 2, clip: false,
      data: yearGridLines.map((yr) => [yr, massRange[0], massRange[1]]),
      encode: { x: 0, y: [1, 2] },
      renderItem: (params: any, api: any) => {
        const bottom = api.coord([api.value(0), api.value(1)]);
        const top = api.coord([api.value(0), api.value(2)]);
        const x = Math.round(bottom[0]) + 0.5;
        return {
          type: 'line',
          shape: { x1: x, y1: top[1], x2: x, y2: bottom[1] },
          style: { stroke: '#a8a8a8', lineWidth: 1, lineDash: [4, 4] },
        };
      },
    });
    series.push({
      type: 'line', name: 'year grid marks', xAxisIndex: 2, yAxisIndex: 2, silent: true, z: 2,
      data: [[yearGridLines[0], massRange[0]]], showSymbol: false, symbol: 'none',
      lineStyle: { opacity: 0 },
      markLine: {
        silent: true, symbol: 'none', label: { show: false }, animation: false,
        lineStyle: { color: '#a8a8a8', type: [4, 4], width: 1 },
        data: yearGridLines.map((yr) => ({ xAxis: yr })),
      },
    });
    const mainLine = (name: string, data: any[], color: string) => ({
      type: 'line', name, xAxisIndex: 2, yAxisIndex: 2, data, showSymbol: false, symbol: 'none', silent: true, connectNulls: false, z: 3,
      lineStyle: { color, width: 3.5, join: 'round', cap: 'round' } as any, itemStyle: { color },
    });
    series.push(mainLine('GRACE', grace, '#ff0000'));
    series.push(mainLine('Mass balance', massBalance, '#0000ff'));
    series.push(mainLine('CryoSat-2', cryosat, '#00c864'));
    series.push({
      type: 'scatter', name: 'ICESat', xAxisIndex: 2, yAxisIndex: 2, data: icesat, symbol: 'circle', symbolSize: 12.5, silent: true, z: 4,
      itemStyle: { color: '#1fbdf2', opacity: 1 },
    });
    series.push(dashed(4, 3, fitLine(insetRange, 1, 0), '#000', 1, [4, 3], 12));
    series.push({
      type: 'scatter', name: 'GRACE (inset)', xAxisIndex: 4, yAxisIndex: 3, data: insetGrace, symbol: 'circle', symbolSize: 5.5, silent: true, z: 12,
      itemStyle: { color: '#ff1a1a', borderColor: '#7a0000', borderWidth: 0.6, opacity: 1 },
    });
    series.push(dashed(4, 3, fitLine([graceFit.from, graceFit.to], graceFit.a, graceFit.b), '#ff0000', 1, [4, 3], 13));
    series.push({
      type: 'scatter', name: 'CryoSat-2 (inset)', xAxisIndex: 4, yAxisIndex: 3, data: insetCryo, symbol: 'circle', symbolSize: 5.5, silent: true, z: 12,
      itemStyle: { color: '#1ec864', borderColor: '#0b6a30', borderWidth: 0.6, opacity: 1 },
    });
    series.push({
      type: 'scatter', name: 'ICESat (inset)', xAxisIndex: 4, yAxisIndex: 3, data: insetIcesat, symbol: 'circle', symbolSize: 5.5, silent: true, z: 12,
      itemStyle: { color: '#1fbdf2', borderColor: '#0a5f80', borderWidth: 0.6, opacity: 1 },
    });
    series.push(dashed(4, 3, fitLine([cryoFit.from, cryoFit.to], cryoFit.a, cryoFit.b), '#00b050', 1, [4, 3], 13));

    const legendText = { fontSize: 18, fontFamily: FONT, color: '#222', lineHeight: 20, padding: [0, 0, 0, 3] };
    const cLegend = (name: string, top: number, icon: string, h: number, left: number) => ({
      data: [name], left, top, itemWidth: 53.5, itemHeight: h, icon, padding: 0, selectedMode: false,
      textStyle: { ...legendText, padding: [0, 0, 0, 4] },
    });
    const isFive = (i: number, v: string) => Number(v) % 5 === 0;

    const tickLbl = { fontSize: 22, color: '#000', fontFamily: FONT };
    const option: any = {
      animation: false,
      textStyle: { fontFamily: FONT },
      grid: [
        { left: 106, top: 13, width: 456, height: 454.3, show: true, borderColor: '#000', borderWidth: 1.5, backgroundColor: 'transparent' },
        { left: 107.3, top: 585.7, width: 458.4, height: 456, show: true, borderColor: '#000', borderWidth: 1.5, backgroundColor: 'transparent' },
        { left: 112.3, top: 1161.7, width: 452.7, height: 452, show: true, borderColor: '#000', borderWidth: 2, backgroundColor: 'transparent' },
        { left: 162.3, top: 1370.9, width: 206, height: 204.8, show: true, borderColor: '#000', borderWidth: 1, backgroundColor: 'transparent', z: 14 },
      ],
      xAxis: [
        sqAxis(0, smbRange, 13),
        sqAxis(1, iceRange, 14),
        {
          type: 'value', gridIndex: 2, min: 2003, max: 2019, interval: 1, position: 'bottom',
          axisLine: { show: true, onZero: false, lineStyle: { color: '#000', width: 2 } },
          axisTick: { show: true, length: 5, lineStyle: { color: '#000', width: 1.5 } },
          axisLabel: { show: false }, splitLine: { show: false },
        },
        {
          type: 'category', gridIndex: 2, data: yearTicks, boundaryGap: false, position: 'bottom',
          axisLine: { show: false, onZero: false },
          axisTick: { show: true, length: 10, interval: isFive, lineStyle: { color: '#000', width: 1.5 } },
          axisLabel: { ...tickLbl, margin: 15, interval: isFive },
          splitLine: { show: false },
        },
        {
          type: 'value', gridIndex: 3, min: insetRange[0], max: insetRange[1], interval: 40, z: 13,
          axisLine: { show: true, onZero: false, lineStyle: { color: '#000', width: 1 } },
          axisTick: { show: true, length: 3, lineStyle: { color: '#000', width: 0.8 } },
          minorTick: { show: true, splitNumber: 4, length: 1.5, lineStyle: { color: '#000', width: 0.6 } },
          axisLabel: { fontSize: 10, color: '#000', fontFamily: FONT, margin: 4, showMinLabel: true, showMaxLabel: true },
          splitLine: { show: true, showMinLine: false, showMaxLine: false, lineStyle: { color: '#b0b0b0', type: 'dotted', width: 1 } },
        },
      ],
      yAxis: [
        sqAxis(0, smbRange, 13),
        sqAxis(1, iceRange, 14),
        {
          type: 'value', gridIndex: 2, min: massRange[0], max: massRange[1], interval: 40,
          axisLine: { show: true, onZero: false, lineStyle: { color: '#000', width: 2 } },
          axisTick: { show: true, length: 10, lineStyle: { color: '#000', width: 1.5 } },
          minorTick: { show: true, splitNumber: 4, length: 5, lineStyle: { color: '#000', width: 1.2 } },
          axisLabel: { ...tickLbl, margin: 16, showMinLabel: true, showMaxLabel: true },
          splitLine: GRIDLINE,
        },
        {
          type: 'value', gridIndex: 3, min: insetRange[0], max: insetRange[1], interval: 40, z: 13,
          axisLine: { show: true, onZero: false, lineStyle: { color: '#000', width: 1 } },
          axisTick: { show: true, length: 3, lineStyle: { color: '#000', width: 0.8 } },
          minorTick: { show: true, splitNumber: 4, length: 1.5, lineStyle: { color: '#000', width: 0.6 } },
          axisLabel: { fontSize: 10, color: '#000', fontFamily: FONT, margin: 5, showMinLabel: true, showMaxLabel: true },
          splitLine: { show: true, showMinLine: false, showMaxLine: false, lineStyle: { color: '#b0b0b0', type: 'dotted', width: 1 } },
        },
      ],
      legend: [
        {
          data: regionNames, orient: 'vertical', left: 140.2, top: 606.6, itemWidth: 9, itemHeight: 9, icon: 'circle',
          itemGap: 10.5, padding: 0, selectedMode: false, textStyle: legendText,
        },
        cLegend('Mass balance', 1190, 'roundRect', 5, 179),
        cLegend('ICESat', 1190, 'circle', 12.5, 375.5),
        cLegend('CryoSat-2', 1227, 'roundRect', 5, 375.5),
        cLegend('GRACE', 1266, 'roundRect', 5, 375.5),
      ],
      graphic: { elements: graphics },
      series,
    };
    chart.setOption(option);
    return () => chart.dispose();
  }, []);
  return <div ref={ref} style={{ width: 578, height: 1693, background: '#fff' }} />;
}

export default App;
